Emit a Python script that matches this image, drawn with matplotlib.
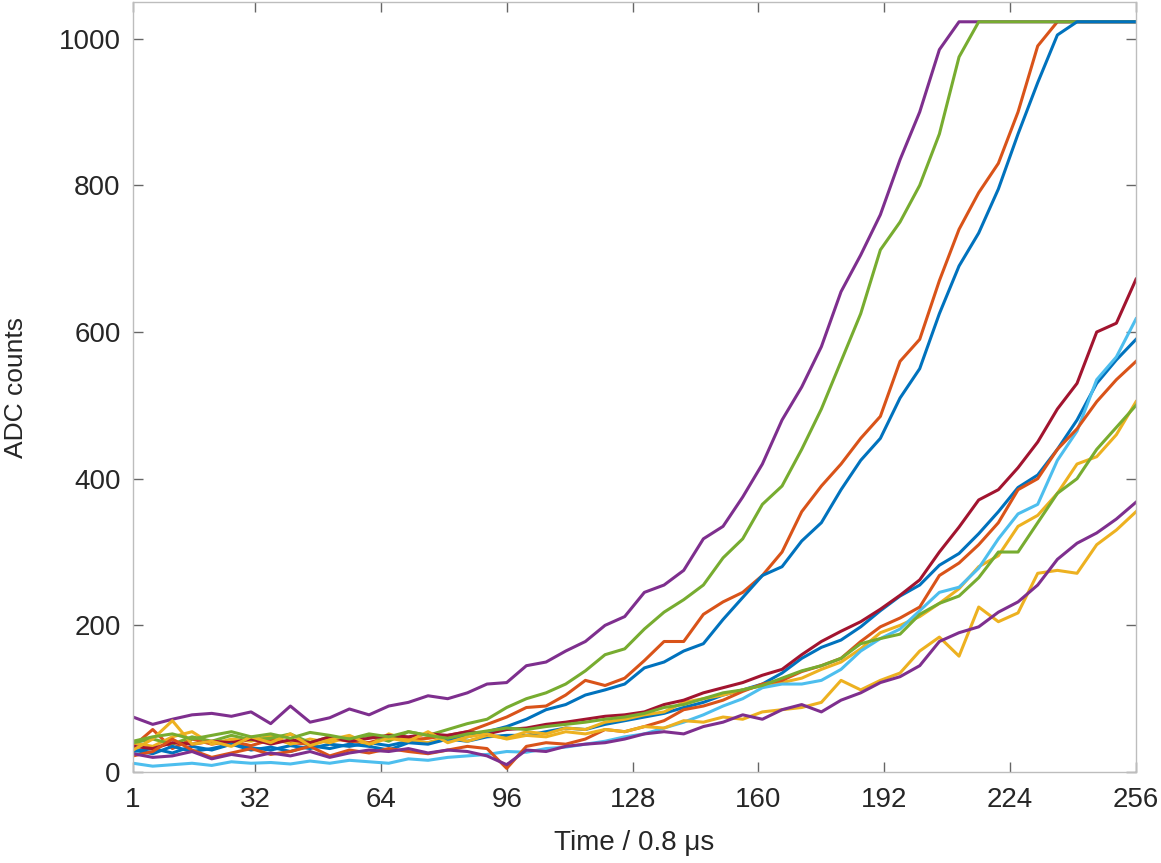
import matplotlib
matplotlib.use('Agg')
import matplotlib.pyplot as plt

# sample index (every 5th sample)
t = list(range(1, 257, 5))

# traces, ADC counts (saturate at 1023)
blue_lo = [28, 32, 26, 35, 30, 38, 33, 30, 36, 32,
           38, 35, 40, 36, 42, 40, 45, 42, 48, 50,
           50, 55, 60, 58, 65, 70, 75, 80, 88, 95,
           105, 112, 120, 135, 155, 170, 180, 198, 220, 240,
           255, 282, 298, 325, 355, 388, 405, 440, 480, 530, 562, 590]
orange_hi = [35, 58, 32, 45, 38, 42, 36, 44, 40, 38,
             46, 42, 40, 48, 44, 46, 50, 55, 65, 75,
             88, 90, 105, 125, 118, 128, 152, 178, 178, 215,
             232, 245, 268, 300, 355, 390, 420, 455, 485, 560,
             590, 670, 740, 790, 830, 900, 990, 1023, 1023, 1023, 1023, 1023]
yellow_a = [40, 35, 48, 55, 38, 45, 42, 50, 38, 45,
            40, 48, 36, 52, 44, 40, 48, 42, 50, 46,
            55, 52, 60, 58, 68, 72, 78, 82, 95, 100,
            105, 112, 118, 122, 128, 140, 150, 168, 190, 200,
            212, 230, 250, 280, 295, 335, 350, 380, 420, 430, 460, 505]
purple_hi = [75, 65, 72, 78, 80, 76, 82, 66, 90, 68,
             74, 86, 78, 90, 95, 104, 100, 108, 120, 122,
             145, 150, 165, 178, 200, 212, 245, 255, 275, 318,
             335, 375, 420, 480, 525, 580, 655, 705, 760, 835,
             900, 985, 1023, 1023, 1023, 1023, 1023, 1023, 1023, 1023, 1023, 1023]
green_hi = [40, 45, 38, 48, 42, 50, 44, 46, 52, 40,
            48, 45, 50, 42, 55, 50, 58, 66, 72, 88,
            100, 108, 120, 138, 160, 168, 195, 218, 235, 255,
            292, 318, 365, 390, 440, 495, 560, 625, 712, 750,
            800, 870, 975, 1023, 1023, 1023, 1023, 1023, 1023, 1023, 1023, 1023]
cyan = [12, 8, 10, 12, 9, 14, 12, 13, 11, 15,
        12, 16, 14, 12, 18, 16, 20, 22, 24, 28,
        27, 32, 34, 38, 42, 48, 52, 60, 68, 78,
        90, 100, 115, 120, 120, 125, 140, 165, 182, 195,
        220, 245, 252, 278, 318, 352, 365, 425, 465, 535, 566, 618]
darkred = [35, 32, 40, 38, 42, 40, 45, 38, 44, 40,
           48, 42, 46, 50, 48, 52, 50, 55, 52, 58,
           60, 65, 68, 72, 76, 78, 82, 92, 98, 108,
           115, 122, 132, 140, 160, 178, 192, 205, 222, 241,
           262, 300, 334, 371, 385, 415, 450, 495, 530, 600, 612, 672]
blue_hi = [30, 25, 35, 28, 32, 38, 30, 34, 28, 36,
           32, 38, 35, 30, 40, 38, 45, 48, 55, 62,
           72, 85, 92, 105, 112, 120, 142, 150, 165, 175,
           208, 238, 268, 280, 315, 340, 385, 425, 455, 510,
           550, 625, 690, 735, 795, 870, 940, 1005, 1023, 1023, 1023, 1023]
orange_lo = [22, 28, 45, 30, 20, 26, 32, 24, 28, 35,
             22, 30, 26, 32, 28, 25, 30, 35, 32, 5,
             35, 40, 38, 45, 58, 55, 62, 70, 85, 90,
             98, 110, 120, 125, 137, 145, 155, 178, 198, 210,
             225, 268, 285, 310, 340, 385, 400, 440, 468, 505, 535, 560]
yellow_b = [30, 45, 70, 38, 42, 35, 48, 40, 52, 36,
            44, 50, 38, 46, 42, 55, 40, 48, 52, 45,
            50, 48, 55, 52, 58, 55, 62, 60, 70, 68,
            75, 72, 82, 85, 88, 95, 125, 112, 125, 135,
            165, 184, 158, 225, 205, 217, 271, 275, 271, 310, 330, 355]
purple_lo = [25, 20, 22, 28, 18, 24, 20, 26, 22, 28,
             20, 26, 30, 28, 32, 26, 30, 28, 22, 10,
             30, 28, 35, 38, 40, 45, 52, 55, 52, 62,
             68, 78, 72, 85, 92, 82, 98, 108, 122, 130,
             145, 178, 190, 198, 218, 232, 255, 290, 312, 326, 345, 368]
green_lo = [42, 48, 52, 45, 50, 55, 48, 52, 46, 54,
            50, 45, 52, 48, 55, 50, 46, 52, 56, 60,
            58, 62, 65, 68, 72, 75, 80, 88, 92, 100,
            108, 112, 118, 128, 138, 145, 155, 175, 182, 188,
            215, 230, 240, 265, 300, 300, 340, 380, 400, 440, 470, 500]

traces = [blue_lo, orange_hi, yellow_a, purple_hi, green_hi, cyan, darkred,
          blue_hi, orange_lo, yellow_b, purple_lo, green_lo]
colors = ['#0072BD', '#D95319', '#EDB120', '#7E2F8E', '#77AC30', '#4DBEEE',
          '#A2142F']

xticks = [1, 32, 64, 96, 128, 160, 192, 224, 256]
yticks = [0, 200, 400, 600, 800, 1000]

plt.rcParams['font.family'] = ['Liberation Sans', 'DejaVu Sans']

fig = plt.figure(figsize=(11.61, 8.63), dpi=100)
ax = fig.add_axes([0.1146, 0.1054, 0.8639, 0.8923])

for i, y in enumerate(traces):
    ax.plot(t, y, color=colors[i % len(colors)], linewidth=2.2)

ax.set_xlim(1, 256)
ax.set_ylim(0, 1050)
ax.set_xticks(xticks)
ax.set_yticks(yticks)
ax.tick_params(direction='in', length=7, width=1, color='#666666',
               labelsize=20, labelcolor='#262626', top=True, right=True)
ax.tick_params(axis='x', pad=11)
ax.tick_params(axis='y', pad=9)
for s in ax.spines.values():
    s.set_color('#bdbdbd')
    s.set_linewidth(1.0)

ax.set_xlabel('Time / 0.8 μs', fontsize=20, color='#262626', labelpad=12)
ax.set_ylabel('ADC counts', fontsize=19, color='#262626', labelpad=22)

fig.savefig('out.png', dpi=100)
